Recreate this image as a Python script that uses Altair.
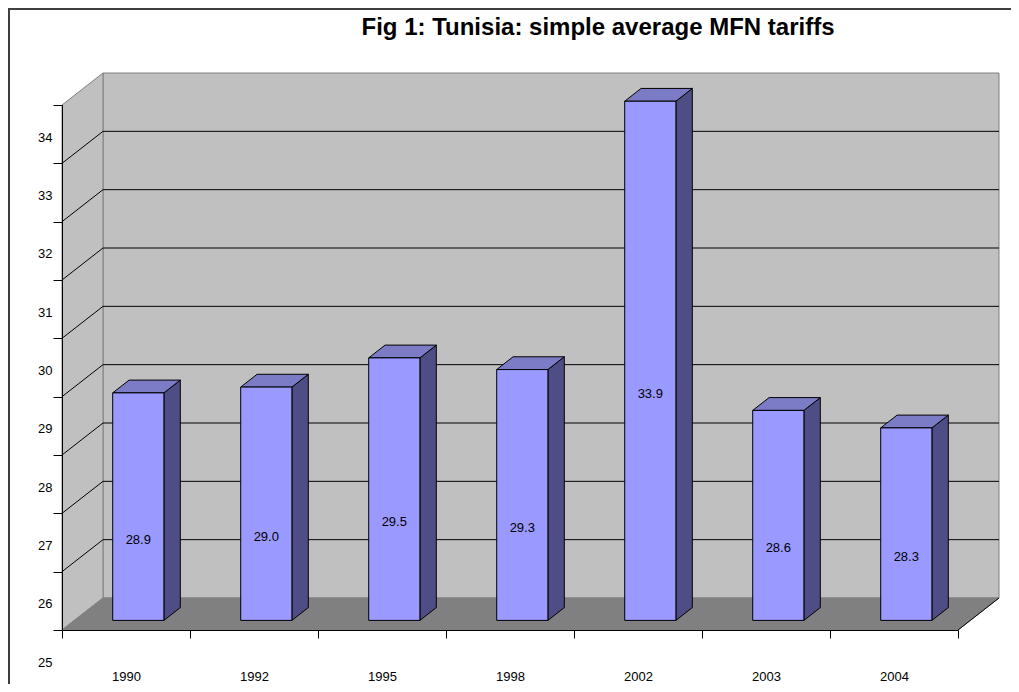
import json
import altair as alt
import pandas as pd

# ---- data ----
years = ["1990", "1992", "1995", "1998", "2002", "2003", "2004"]
tariffs = [28.9, 29.0, 29.5, 29.3, 33.9, 28.6, 28.3]
y_ticks = [25, 26, 27, 28, 29, 30, 31, 32, 33, 34]
title_text = "Fig 1: Tunisia: simple average MFN tariffs"

# ---- geometry / style ----
FONT = "Liberation Sans"
N = len(years)
Y_MIN, Y_MAX = y_ticks[0], y_ticks[-1]
W, H = 896, 525                      # front plane of the 3-D box
PAD = {"left": 54, "top": 97, "right": 53, "bottom": 54}
PX_U = W / N
PX_V = H / (Y_MAX - Y_MIN)
DX = 41 / PX_U                       # depth offset of the box (x units)
DY = 32 / PX_V                       # depth offset of the box (value units)
F, B = 0.3, 0.7                      # bar front / back depth fraction
HALF = 0.2                           # half bar width in slot units
DROP = 33 / PX_V                     # text offset quirk of the original

xs = alt.Scale(domain=[0, N], nice=False, zero=False)
ys = alt.Scale(domain=[Y_MIN, Y_MAX], nice=False, zero=False)

x_axis = alt.Axis(
    values=list(range(N + 1)),
    labelExpr=f"datum.value < {N} ? {json.dumps(years)}[datum.value] : ''",
    labelOffset=PX_U / 2, tickSize=8, labelPadding=32,
    labelFont=FONT, labelFontSize=13, labelColor="black",
    domainColor="black", tickColor="black", grid=False, title=None,
    labelOverlap=False, labelFlush=False, labelAngle=0, zindex=1,
)
y_axis = alt.Axis(
    values=y_ticks, format="d", tickSize=9, labelPadding=1, labelOffset=32,
    labelFont=FONT, labelFontSize=13, labelColor="black",
    domainColor="black", tickColor="black", grid=False, title=None,
    labelOverlap=False, labelFlush=False, zindex=1,
)


def X(field="x"):
    return alt.X(f"{field}:Q", scale=xs, axis=x_axis, stack=None, title=None)


def Y(field="y"):
    return alt.Y(f"{field}:Q", scale=ys, axis=y_axis, stack=None, title=None)


# back wall
wall_df = pd.DataFrame({"x": [DX], "x2": [N + DX], "y": [Y_MIN + DY], "y2": [Y_MAX + DY]})
back = alt.Chart(wall_df).mark_rect(fill="#C0C0C0", stroke="#808080", strokeWidth=1).encode(
    x=X(), x2=alt.X2("x2"), y=Y(), y2=alt.Y2("y2"))

# left wall
lw_df = pd.DataFrame({"x": [0, DX], "y": [Y_MIN, Y_MIN + DY], "y2": [Y_MAX, Y_MAX + DY]})
left = alt.Chart(lw_df).mark_area(orient="vertical", fill="#C0C0C0", stroke="#808080",
                                   strokeWidth=1).encode(x=X(), y=Y(), y2=alt.Y2("y2"))

# floor
fl_df = pd.DataFrame({"y": [Y_MIN, Y_MIN + DY], "x": [0, DX], "x2": [N, N + DX]})
floor = alt.Chart(fl_df).mark_area(orient="horizontal", fill="#808080", stroke="#808080",
                                    strokeWidth=1).encode(y=Y(), x=X(), x2=alt.X2("x2"))

# gridlines
g = y_ticks[1:-1]
gb_df = pd.DataFrame({"x": [DX] * len(g), "x2": [N + DX] * len(g), "y": [v + DY for v in g]})
grid_back = alt.Chart(gb_df).mark_rule(color="black", strokeWidth=1).encode(
    x=X(), x2=alt.X2("x2"), y=Y())
gl_df = pd.DataFrame({"x": [0] * len(g), "x2": [DX] * len(g), "y": g, "y2": [v + DY for v in g]})
grid_left = alt.Chart(gl_df).mark_rule(color="black", strokeWidth=1).encode(
    x=X(), x2=alt.X2("x2"), y=Y(), y2=alt.Y2("y2"))

edge_df = pd.DataFrame({"x": [N], "x2": [N + DX], "y": [Y_MIN], "y2": [Y_MIN + DY]})
floor_edge = alt.Chart(edge_df).mark_rule(color="black", strokeWidth=1).encode(
    x=X(), x2=alt.X2("x2"), y=Y(), y2=alt.Y2("y2"))

# bars
L = [i + 0.5 + F * DX - HALF for i in range(N)]
R = [l + 2 * HALF for l in L]
bd = B - F
front_df = pd.DataFrame({
    "bar": years, "v": tariffs, "x": L, "x2": R,
    "y": [Y_MIN + F * DY] * N, "y2": [v + F * DY for v in tariffs],
})
top_rows, side_rows = [], []
for i, (yr, v) in enumerate(zip(years, tariffs)):
    top_rows.append({"bar": yr, "y": v + F * DY, "x": L[i], "x2": R[i]})
    top_rows.append({"bar": yr, "y": v + B * DY, "x": L[i] + bd * DX, "x2": R[i] + bd * DX})
    side_rows.append({"bar": yr, "x": R[i], "y": Y_MIN + F * DY, "y2": v + F * DY})
    side_rows.append({"bar": yr, "x": R[i] + bd * DX, "y": Y_MIN + B * DY, "y2": v + B * DY})
top_df = pd.DataFrame(top_rows)
side_df = pd.DataFrame(side_rows)

side = alt.Chart(side_df).mark_area(orient="vertical", fill="#4E4E84", stroke="black",
                                     strokeWidth=1).encode(
    x=X(), y=Y(), y2=alt.Y2("y2"), detail="bar:N")
top = alt.Chart(top_df).mark_area(orient="horizontal", fill="#7C7CC6", stroke="black",
                                   strokeWidth=1).encode(
    y=Y(), x=X(), x2=alt.X2("x2"), detail="bar:N")
front = alt.Chart(front_df).mark_rect(fill="#9999FF", stroke="black", strokeWidth=1).encode(
    x=X(), x2=alt.X2("x2"), y=Y(), y2=alt.Y2("y2"))

lab_df = pd.DataFrame({
    "v": tariffs,
    "x": [i + 0.5 + F * DX for i in range(N)],
    "y": [Y_MIN + F * DY + (v - Y_MIN) / 2 - DROP for v in tariffs],
})
labels = alt.Chart(lab_df).mark_text(font=FONT, fontSize=13, color="black",
                                      align="center", baseline="middle").encode(
    x=X(), y=Y(), text=alt.Text("v:Q", format=".1f"))

# outer frame (left and top edges visible in the original)
one = pd.DataFrame({"a": [0]})
frame_top = alt.Chart(one).mark_rule(color="#404040", strokeWidth=2).encode(
    x=alt.value(-PAD["left"]), x2=alt.value(W + PAD["right"]), y=alt.value(-PAD["top"] + 1))
frame_left = alt.Chart(one).mark_rule(color="#404040", strokeWidth=2).encode(
    x=alt.value(-PAD["left"] + 1), y=alt.value(-PAD["top"]), y2=alt.value(H + PAD["bottom"]))

chart = alt.layer(
    back, left, floor, grid_back, grid_left, floor_edge,
    side, top, front, labels, frame_top, frame_left,
).properties(
    width=W, height=H, padding=PAD,
    autosize=alt.AutoSizeParams(type="none"),
    title=alt.TitleParams(title_text, font=FONT, fontSize=24, fontWeight="bold",
                          color="black", anchor="middle", frame="group",
                          offset=0, dx=88, dy=33),
).configure_view(stroke=None)

chart.save("out.html", embed_options={"renderer": "svg", "actions": False})
